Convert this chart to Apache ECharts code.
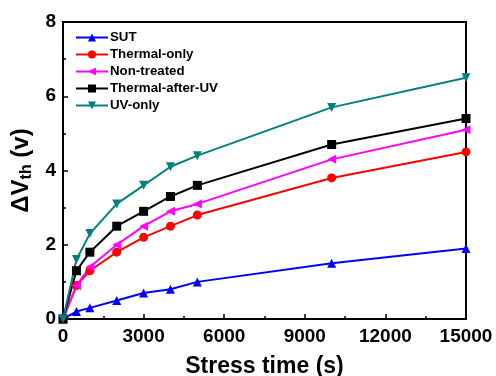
<!DOCTYPE html>
<html><head><meta charset="utf-8">
<script src="https://cdn.jsdelivr.net/npm/echarts@6/dist/echarts.min.js"></script>
<style>html,body{margin:0;padding:0;background:#fff}#c{width:496px;height:376px}</style>
</head><body><div id="c"></div>
<script>
const stressTime = [0, 500, 1000, 2000, 3000, 4000, 5000, 10000, 15000];
const sut = [0, 0.2, 0.3, 0.5, 0.7, 0.8, 1.0, 1.5, 1.9];
const thermalOnly = [0, 0.9, 1.3, 1.8, 2.2, 2.5, 2.8, 3.8, 4.5];
const nonTreated = [0, 0.9, 1.4, 2.0, 2.5, 2.9, 3.1, 4.3, 5.1];
const thermalAfterUV = [0, 1.3, 1.8, 2.5, 2.9, 3.3, 3.6, 4.7, 5.4];
const uvOnly = [0, 1.6, 2.3, 3.1, 3.6, 4.1, 4.4, 5.7, 6.5];
const seriesNames = ['SUT', 'Thermal-only', 'Non-treated', 'Thermal-after-UV', 'UV-only'];

const FONT = '"Liberation Sans", Arial, sans-serif';
function mk(name, vals, color, symbol, rot) {
  return {
    name, type: 'line', data: stressTime.map((t, i) => [t, vals[i]]),
    symbol, symbolSize: 9, symbolRotate: rot || 0, showSymbol: true,
    lineStyle: { color, width: 2 }, itemStyle: { color },
    emphasis: { disabled: true }, animation: false
  };
}
const chart = echarts.init(document.getElementById('c'));
chart.setOption({
  animation: false,
  grid: { left: 63, right: 30, top: 22, bottom: 57, outerBoundsMode: 'none', containLabel: false, show: true, borderColor: '#000', borderWidth: 2, backgroundColor: 'transparent' },
  legend: {
    orient: 'vertical', left: 70, top: 26, itemGap: 4, itemWidth: 32, itemHeight: 10,
    textStyle: { fontFamily: FONT, fontWeight: 'bold', fontSize: 13.3, color: '#000', padding: [0, 0, 0, -3] },
    data: seriesNames
  },
  xAxis: {
    type: 'value', min: 0, max: 15000, interval: 3000,
    axisLine: { lineStyle: { color: '#000', width: 2 } },
    axisTick: { inside: true, length: 5, lineStyle: { color: '#000', width: 1.5 } },
    minorTick: { show: true, splitNumber: 2, length: 3, lineStyle: { color: '#000', width: 1.5 } },
    splitLine: { show: false },
    axisLabel: { fontFamily: FONT, fontWeight: 'bold', fontSize: 19, color: '#000', margin: 8, formatter: v => String(v) },
    name: 'Stress time (s)', nameLocation: 'middle', nameGap: 36,
    nameTextStyle: { fontFamily: FONT, fontWeight: 'bold', fontSize: 23, color: '#000' }
  },
  yAxis: {
    type: 'value', min: 0, max: 8, interval: 2,
    axisLine: { lineStyle: { color: '#000', width: 2 } },
    axisTick: { inside: true, length: 5, lineStyle: { color: '#000', width: 1.5 } },
    minorTick: { show: true, splitNumber: 2, length: 3, lineStyle: { color: '#000', width: 1.5 } },
    splitLine: { show: false },
    axisLabel: { fontFamily: FONT, fontWeight: 'bold', fontSize: 19, color: '#000', margin: 7 },
    name: '{a|ΔV}{s|th}{a| (v)}', nameLocation: 'middle', nameGap: 28,
    nameTextStyle: {
      fontFamily: FONT, fontWeight: 'bold', fontSize: 24, color: '#000',
      rich: {
        a: { fontFamily: FONT, fontWeight: 'bold', fontSize: 24, color: '#000' },
        s: { fontFamily: FONT, fontWeight: 'bold', fontSize: 16, color: '#000', verticalAlign: 'bottom', padding: [10, 0, 0, 0] }
      }
    }
  },
  series: [
    mk('SUT', sut, '#0000ff', 'triangle', 0),
    mk('Thermal-only', thermalOnly, '#ff0000', 'circle', 0),
    mk('Non-treated', nonTreated, '#ff00ff', 'triangle', 90),
    mk('Thermal-after-UV', thermalAfterUV, '#000000', 'rect', 0),
    mk('UV-only', uvOnly, '#008080', 'triangle', 180)
  ]
});
</script></body></html>
